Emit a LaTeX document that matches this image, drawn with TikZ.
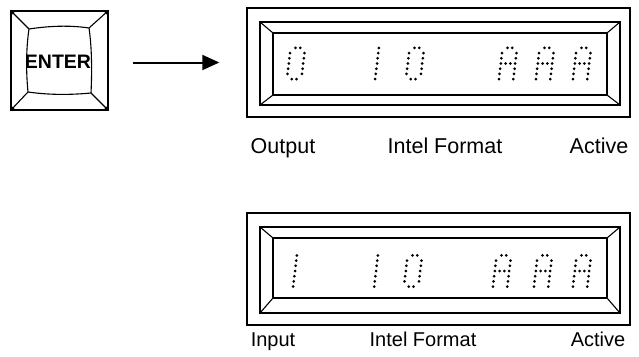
\documentclass[tikz,border=0pt]{standalone}
\usepackage{fontspec}
\setmainfont{Liberation Sans}
\usetikzlibrary{
  arrows.meta,
  positioning,
}
\tikzstyle{frame} = [
  draw,
  rectangle,
  line width=1.4pt,
  inner sep=0pt,
]
\tikzstyle{bevel} = [line width=1.1pt]
\tikzstyle{arrow} = [
  -{Triangle[length=17pt, width=15pt]},
  line width=2pt,
  shorten <=24pt,
  shorten >=27pt,
]
\tikzstyle{caption} = [
  anchor=base,
  inner sep=0pt,
  font=\fontsize{21.5}{21.5}\selectfont,
]
\tikzstyle{smallcaption} = [
  caption,
  font=\fontsize{20}{20}\selectfont,
]
\tikzstyle{lcddot} = [fill=black]

\newcommand{\glyphA}{1/0,2/0,0/1,3/1,0/2,3/2,0/3,1/3,2/3,3/3,0/4,3/4,0/5,3/5,0/6,3/6}
\newcommand{\glyphO}{1/0,2/0,0/1,3/1,0/2,3/2,0/3,3/3,0/4,3/4,0/5,3/5,1/6,2/6}
\newcommand{\glyphI}{1.5/0,1.5/1,1.5/2,1.5/3,1.5/4,1.5/5,1.5/6}
\newcommand{\lcdchar}[3]{%
  \foreach \c/\r in #3 {
    \fill [lcddot] ({#1 + (\c-1.5)*4.8 + (3-\r)*0.62}, {#2 + (\r-3)*5.2}) circle (1.5pt);
  }
}

\begin{document}
\begin{tikzpicture}[x=1pt, y=-1pt]

        \useasboundingbox (0,0) rectangle (639,356);

        \node [frame, minimum width=97pt, minimum height=99pt] (key) at (59.5,60.5) {};

        \coordinate (ktl) at (29,29);
        \coordinate (ktr) at (89,28);
        \coordinate (kbr) at (91,93);
        \coordinate (kbl) at (28,92);

        \draw [bevel] (ktl) .. controls (49,26) and (69,25) .. (ktr)
              .. controls (92,48) and (92,73) .. (kbr)
              .. controls (70,95) and (49,95) .. (kbl)
              .. controls (26,72) and (26,49) .. cycle;

        \draw [bevel] (key.north west) -- (ktl) (key.north east) -- (ktr)
              (key.south east) -- (kbr) (key.south west) -- (kbl);

        \foreach \a/\dx/\dy in {north west/1/1, north east/-1/1, south east/-1/-1, south west/1/-1} {
          \fill (key.\a) -- ++(\dx*6,0) -- ++(-\dx*6,\dy*6) -- cycle;
        }

        \node [font=\bfseries\fontsize{19.5}{19.5}\selectfont] (enter) at (58,62) {ENTER};

        \foreach \p/\ot/\ob/\bt/\bb/\it/\ib in {1/8/117/22/105/33/95, 2/213/325/227/313/238/298} {
          \node [frame, minimum width=383pt, minimum height={(\ob-\ot)*1pt}] (panel\p) at (438.5,{(\ot+\ob)/2}) {};
          \draw [bevel] (260,\bt) rectangle (620,\bb);
          \draw [bevel] (273,\it) rectangle (607,\ib);
          \draw [bevel] (260,\bt) -- (273,\it) (620,\bt) -- (607,\it)
                (620,\bb) -- (607,\ib) (260,\bb) -- (273,\ib);
        }

        \draw [arrow] (panel1.west -| key.east) -- (panel1.west);

        \lcdchar{296}{63.5}{\glyphO}
        \lcdchar{377}{63.5}{\glyphI}
        \lcdchar{415}{63.5}{\glyphO}
        \foreach \x in {508,545,582} {
          \lcdchar{\x}{63.5}{\glyphA}
        }

        \lcdchar{295}{271}{\glyphI}
        \lcdchar{376}{271}{\glyphI}
        \lcdchar{413}{271}{\glyphO}
        \foreach \x in {502,543,582} {
          \lcdchar{\x}{271}{\glyphA}
        }

        \node [caption] (outlbl) at (283,153) {Output};
        \node [caption] (fmtlbl1) at (445,153) {Intel Format};
        \node [caption] (actlbl1) at (599,153) {Active};

        \node [smallcaption] (inlbl) at (273,346) {Input};
        \node [smallcaption] (fmtlbl2) at (423,346) {Intel Format};
        \node [smallcaption] (actlbl2) at (598,346) {Active};
      \end{tikzpicture}
\end{document}
